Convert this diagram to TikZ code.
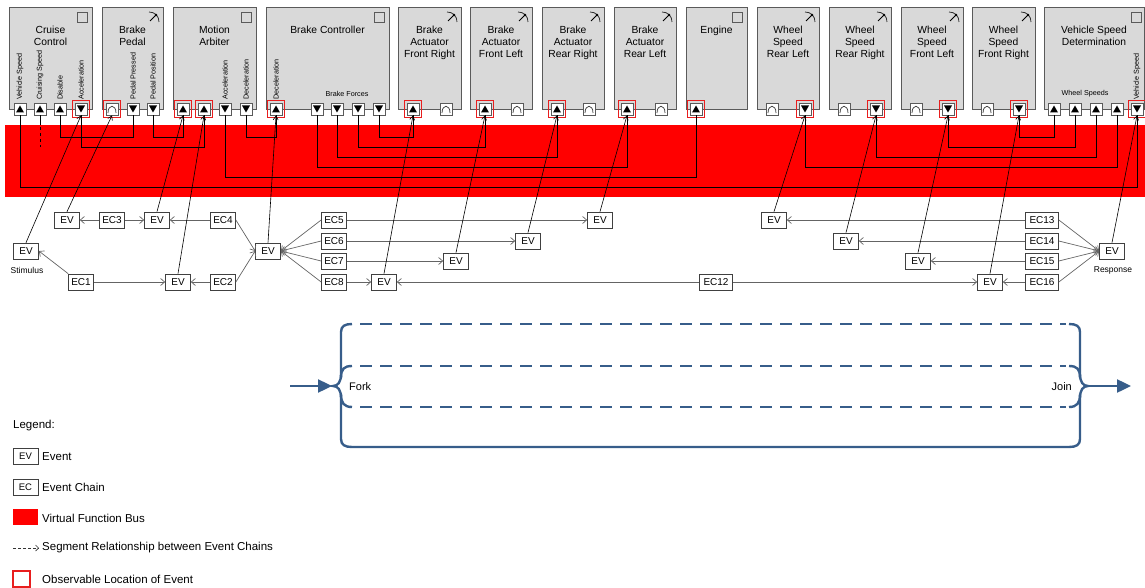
\documentclass[tikz,border=0pt]{standalone}
\usepackage{fontspec}
\setmainfont{Liberation Sans}
\usetikzlibrary{arrows.meta,calc}
\definecolor{compfill}{RGB}{217,217,217}
\definecolor{compline}{RGB}{90,90,90}
\definecolor{busred}{RGB}{255,0,0}
\definecolor{obsred}{RGB}{232,30,30}
\definecolor{fjblue}{RGB}{55,93,138}
\definecolor{ecgray}{RGB}{100,100,100}
\tikzset{
 comp/.style={draw=compline, fill=compfill, line width=0.8pt},
 port/.style={draw=compline, fill=white, minimum size=12pt, inner sep=0pt, line width=0.8pt},
 obsbox/.style={draw=obsred, minimum size=17pt, inner sep=0pt, line width=1.1pt},
 evbox/.style={draw=black!75, fill=white, minimum width=25pt, minimum height=16pt, inner sep=0pt, font=\fontsize{10}{12}\selectfont, line width=0.7pt},
 ecwide/.style={evbox, minimum width=33pt},
 legbox/.style={evbox, font=\fontsize{9.5}{11}\selectfont},
 ecarrow/.style={draw=ecgray, line width=0.7pt, -{Straight Barb[length=4pt,width=7pt]}},
 evport/.style={draw=black, line width=0.6pt, -{Straight Barb[length=4pt,width=5pt]}},
 wire/.style={draw=black, line width=0.7pt},
 plabel/.style={font=\fontsize{7.2}{8}\selectfont, rotate=90, anchor=west, inner sep=0pt},
 hlabel/.style={font=\fontsize{7.2}{8}\selectfont, inner sep=0pt},
 ctitle/.style={font=\fontsize{10.3}{12}\selectfont, align=center, anchor=north, inner sep=0pt},
 fj/.style={draw=fjblue, line width=2.4pt},
 fjdash/.style={fj, dash pattern=on 12pt off 8pt},
 leg/.style={font=\fontsize{11.5}{13}\selectfont, anchor=west, inner sep=0pt},
 small/.style={font=\fontsize{8.5}{10}\selectfont, inner sep=0pt},
}
\newcommand{\compbox}[4]{\path[comp] (#2,7) rectangle (#3,109); \node[ctitle] (#1) at ({(#2+#3)/2},26) {#4};}
\newcommand{\sqicon}[1]{\draw[compline, line width=0.8pt] (#1-15,12) rectangle (#1-5,22);}
\newcommand{\gauge}[1]{\draw[black!80, line width=0.8pt] (#1-14,12) .. controls (#1-8,12) and (#1-4,16) .. (#1-4,22);
 \draw[black, line width=0.8pt] (#1-13,21) -- (#1-7,15); \fill (#1-7,15) circle (1.3);}
\newcommand{\pUp}[2]{\node[port] (#1) at (#2,109) {}; \fill ($(#1)+(-4,3.5)$) -- ($(#1)+(4,3.5)$) -- ($(#1)+(0,-3.5)$) -- cycle;}
\newcommand{\pDn}[2]{\node[port] (#1) at (#2,109) {}; \fill ($(#1)+(-4,-3.5)$) -- ($(#1)+(4,-3.5)$) -- ($(#1)+(0,3.5)$) -- cycle;}
\newcommand{\pArc}[2]{\node[port] (#1) at (#2,109) {}; \draw[line width=0.7pt, black!80] ($(#1)+(-4,4)$) .. controls ($(#1)+(-4,-5)$) and ($(#1)+(4,-5)$) .. ($(#1)+(4,4)$);}
\newcommand{\obsv}[1]{\node[obsbox] (#1o) at (#1) {};}
\begin{document}
\begin{tikzpicture}[x=1pt, y=-1pt]
\useasboundingbox (0,0) rectangle (1145,588);
% bus
\fill[busred] (5,125) rectangle (1145,197);
% components
\compbox{cc}{9}{92}{Cruise\\Control}\sqicon{92}
\compbox{bp}{102}{163}{Brake\\Pedal}\gauge{163}
\compbox{ma}{173}{256}{Motion\\Arbiter}\sqicon{256}
\compbox{bc}{266}{389}{Brake Controller}\sqicon{389}
\compbox{bafrt}{398}{461}{Brake\\Actuator\\Front Right}\gauge{461}
\compbox{baflt}{470}{532}{Brake\\Actuator\\Front Left}\gauge{532}
\compbox{barrt}{542}{604}{Brake\\Actuator\\Rear Right}\gauge{604}
\compbox{barlt}{614}{676}{Brake\\Actuator\\Rear Left}\gauge{676}
\compbox{engt}{686}{747}{Engine}\sqicon{747}
\compbox{wsrlt}{757}{819}{Wheel\\Speed\\Rear Left}\gauge{819}
\compbox{wsrrt}{829}{891}{Wheel\\Speed\\Rear Right}\gauge{891}
\compbox{wsflt}{901}{963}{Wheel\\Speed\\Front Left}\gauge{963}
\compbox{wsfrt}{972}{1035}{Wheel\\Speed\\Front Right}\gauge{1035}
\compbox{vsd}{1044}{1144}{Vehicle Speed\\Determination}\sqicon{1146}
% port labels
\node[plabel] (l1) at (20,100) {Vehicle Speed};
\node[plabel] (l2) at (40,100) {Cruising Speed};
\node[plabel] (l3) at (60,100) {Disable};
\node[plabel] (l4) at (81,100) {Acceleration};
\node[plabel] (l5) at (133,100) {Pedal Pressed};
\node[plabel] (l6) at (153,100) {Pedal Position};
\node[plabel] (l7) at (225,100) {Acceleration};
\node[plabel] (l8) at (246,100) {Deceleration};
\node[plabel] (l9) at (276,100) {Deceleration};
\node[plabel] (l10) at (1137,100) {Vehicle Speed};
\node[hlabel] (l11) at (347,94) {Brake Forces};
\node[hlabel] (l12) at (1085,94) {Wheel Speeds};
% ports
\pUp{ccvs}{20}\pUp{cccs}{40}\pUp{ccdis}{60}\pDn{ccacc}{81}\obsv{ccacc}
\pArc{bparc}{112}\obsv{bparc}\pDn{bppp}{133}\pDn{bppos}{153}
\pUp{maa}{183}\obsv{maa}\pUp{mab}{204}\obsv{mab}\pDn{maacc}{225}\pDn{madec}{246}
\pUp{bcdec}{276}\obsv{bcdec}\pDn{bfa}{317}\pDn{bfb}{337}\pDn{bfc}{358}\pDn{bfd}{379}
\pUp{bafr}{413}\obsv{bafr}\pArc{bafrx}{446}
\pUp{bafl}{485}\obsv{bafl}\pArc{baflx}{517}
\pUp{barr}{557}\obsv{barr}\pArc{barrx}{589}
\pUp{barl}{627}\obsv{barl}\pArc{barlx}{661}
\pUp{eng}{696}\obsv{eng}
\pArc{wsrlx}{772}\pDn{wsrl}{805}\obsv{wsrl}
\pArc{wsrrx}{844}\pDn{wsrr}{876}\obsv{wsrr}
\pArc{wsflx}{916}\pDn{wsfl}{948}\obsv{wsfl}
\pArc{wsfrx}{987}\pDn{wsfr}{1019}\obsv{wsfr}
\pUp{vsa}{1054}\pUp{vsb}{1075}\pUp{vsc}{1096}\pUp{vsd4}{1117}\pDn{vsdvs}{1137}\obsv{vsdvs}
% bus wires
\draw[wire] (ccvs.south) -- ++(0,72) -| (vsdvs.south);
\draw[wire] (cccs.south) -- ++(0,10);
\draw[wire, dash pattern=on 3pt off 3pt] ($(cccs.south)+(0,12)$) -- ++(0,20);
\draw[wire] (ccdis.south) -- ++(0,22) -| (bppp.south);
\draw[wire] (ccacc.south) -- ++(0,32) -| (mab.south);
\draw[wire] (bppos.south) -- ++(0,22) -| (maa.south);
\draw[wire] (maacc.south) -- ++(0,62) -| (eng.south);
\draw[wire] (madec.south) -- ++(0,22) -| (bcdec.south);
\draw[wire] (bfa.south) -- ++(0,52) -| (barl.south);
\draw[wire] (bfb.south) -- ++(0,42) -| (barr.south);
\draw[wire] (bfc.south) -- ++(0,32) -| (bafl.south);
\draw[wire] (bfd.south) -- ++(0,22) -| (bafr.south);
\draw[wire] (wsrl.south) -- ++(0,52) -| (vsd4.south);
\draw[wire] (wsrr.south) -- ++(0,42) -| (vsc.south);
\draw[wire] (wsfl.south) -- ++(0,32) -| (vsb.south);
\draw[wire] (wsfr.south) -- ++(0,22) -| (vsa.south);
% events and event chains
\node[evbox] (stim) at (26,251) {EV};
\node[small] (stimt) at (27,270) {Stimulus};
\node[evbox] (eva) at (67,220) {EV};
\node[evbox] (ec3) at (112,220) {EC3};
\node[evbox] (evb) at (157,220) {EV};
\node[evbox] (ec4) at (223,220) {EC4};
\node[evbox] (cev) at (268,251) {EV};
\node[evbox] (ec1) at (81,282) {EC1};
\node[evbox] (evc) at (178,282) {EV};
\node[evbox] (ec2) at (223,282) {EC2};
\node[evbox] (ec5) at (334,220) {EC5};
\node[evbox] (ec6) at (334,241) {EC6};
\node[evbox] (ec7) at (334,261) {EC7};
\node[evbox] (ec8) at (334,282) {EC8};
\node[evbox] (ev5) at (600,220) {EV};
\node[evbox] (ev6) at (528,241) {EV};
\node[evbox] (ev7) at (456,261) {EV};
\node[evbox] (ev8) at (384,282) {EV};
\node[ecwide] (ec12) at (716,282) {EC12};
\node[evbox] (ev13) at (774,220) {EV};
\node[evbox] (ev14) at (846,241) {EV};
\node[evbox] (ev15) at (918,261) {EV};
\node[evbox] (ev16) at (990,282) {EV};
\node[ecwide] (ec13) at (1042,220) {EC13};
\node[ecwide] (ec14) at (1042,241) {EC14};
\node[ecwide] (ec15) at (1042,261) {EC15};
\node[ecwide] (ec16) at (1042,282) {EC16};
\node[evbox] (resp) at (1112,251) {EV};
\node[small] (respt) at (1113,270) {Response};
% chain arrows
\draw[ecarrow] (ec3.west) -- (eva.east);
\draw[ecarrow] (ec3.east) -- (evb.west);
\draw[ecarrow] (ec4.west) -- (evb.east);
\draw[ecarrow] (ec4.east) -- (cev.west);
\draw[ecarrow] (ec1.north west) -- (stim.east);
\draw[ecarrow] (ec1.east) -- (evc.west);
\draw[ecarrow] (ec2.west) -- (evc.east);
\draw[ecarrow] (ec2.east) -- (cev.west);
\foreach \e in {ec5,ec6,ec7,ec8} \draw[ecarrow] (\e.west) -- (cev.east);
\draw[ecarrow] (ec5.east) -- (ev5.west);
\draw[ecarrow] (ec6.east) -- (ev6.west);
\draw[ecarrow] (ec7.east) -- (ev7.west);
\draw[ecarrow] (ec8.east) -- (ev8.west);
\draw[ecarrow] (ec12.west) -- (ev8.east);
\draw[ecarrow] (ec12.east) -- (ev16.west);
\draw[ecarrow] (ec13.west) -- (ev13.east);
\draw[ecarrow] (ec14.west) -- (ev14.east);
\draw[ecarrow] (ec15.west) -- (ev15.east);
\draw[ecarrow] (ec16.west) -- (ev16.east);
\foreach \e in {ec13,ec14,ec15,ec16} \draw[ecarrow] (\e.east) -- (resp.west);
% event to port
\draw[evport] (stim.north) -- (ccacc.south);
\draw[evport] (eva.north) -- (bparc.south);
\draw[evport] (evb.north) -- (maa.south);
\draw[evport] (evc.north) -- (mab.south);
\draw[evport] (cev.north) -- (bcdec.south);
\draw[evport] (ev8.north) -- (bafr.south);
\draw[evport] (ev7.north) -- (bafl.south);
\draw[evport] (ev6.north) -- (barr.south);
\draw[evport] (ev5.north) -- (barl.south);
\draw[evport] (ev13.north) -- (wsrl.south);
\draw[evport] (ev14.north) -- (wsrr.south);
\draw[evport] (ev15.north) -- (wsfl.south);
\draw[evport] (ev16.north) -- (wsfr.south);
\draw[evport] (resp.north) -- (vsdvs.south);
% fork / join
\draw[fj] (352,324) .. controls (345,324) and (341,326) .. (341,332) -- (341,374) .. controls (341,382) and (338,386) .. (333,386) .. controls (338,386) and (341,390) .. (341,398) -- (341,439) .. controls (341,445) and (345,447) .. (352,447) -- (1069,447) .. controls (1076,447) and (1080,445) .. (1080,439) -- (1080,398) .. controls (1080,390) and (1083,386) .. (1088,386) .. controls (1083,386) and (1080,382) .. (1080,374) -- (1080,332) .. controls (1080,326) and (1076,324) .. (1069,324);
\draw[fj] (341,378) .. controls (341,369) and (344,366) .. (352,366);
\draw[fj] (341,394) .. controls (341,403) and (344,407) .. (352,407);
\draw[fj] (1080,378) .. controls (1080,369) and (1077,366) .. (1069,366);
\draw[fj] (1080,394) .. controls (1080,403) and (1077,407) .. (1069,407);
\draw[fjdash] (360,324) -- (1066,324);
\draw[fjdash] (360,366) -- (1066,366);
\draw[fjdash] (360,407) -- (1066,407);
\coordinate (fin) at (290,386);
\coordinate (ftip) at (332,386);
\coordinate (jtip) at (1088,386);
\coordinate (jout) at (1131,386);
\draw[fj, -{Triangle[length=14pt,width=13pt]}] (fin) -- (ftip);
\draw[fj, -{Triangle[length=14pt,width=13pt]}] (jtip) -- (jout);
\node[font=\fontsize{11}{13}\selectfont, anchor=west, inner sep=0pt] (fork) at (349,387) {Fork};
\node[font=\fontsize{11}{13}\selectfont, anchor=east, inner sep=0pt] (join) at (1072,387) {Join};
% legend
\node[leg] (legt) at (13,426) {Legend:};
\node[legbox] (legev) at (25.5,456) {EV};
\node[leg] (legevt) at (42,457) {Event};
\node[legbox] (legec) at (25.5,487) {EC};
\node[leg] (legect) at (42,487) {Event Chain};
\fill[busred] (13,509) rectangle (38,525);
\node[leg] (legbus) at (42,518) {Virtual Function Bus};
\coordinate (lda) at (13,548);
\coordinate (ldb) at (39,548);
\draw[black!80, line width=0.7pt, dash pattern=on 3pt off 2pt, -{Straight Barb[length=3pt,width=6pt]}] (lda) -- (ldb);
\node[leg] (legseg) at (42,548) {Segment Relationship between Event Chains};
\draw[obsred, line width=1.1pt] (13,571) rectangle (30,587);
\node[leg] (legobs) at (42,579) {Observable Location of Event};
\end{tikzpicture}
\end{document}
